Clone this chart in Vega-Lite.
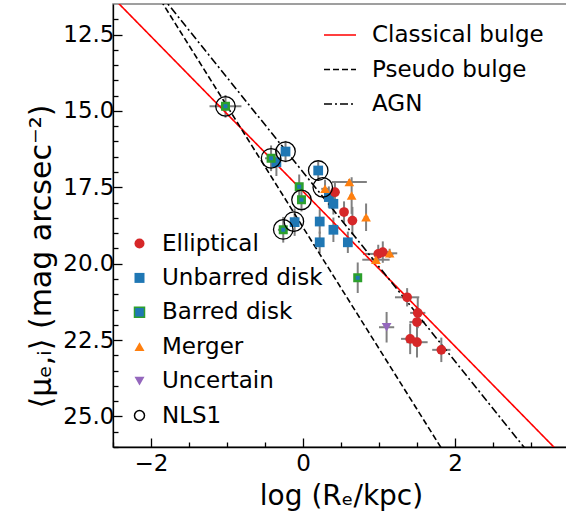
{
  "$schema": "https://vega.github.io/schema/vega-lite/v6.json",
  "width": 456,
  "height": 443,
  "autosize": {"type": "none"},
  "padding": {"left": 113, "top": 4, "right": 0, "bottom": 65},
  "background": "white",
  "config": {
    "font": "DejaVu Sans",
    "view": {"stroke": "#808080", "strokeWidth": 1.5},
    "axis": {
      "grid": false,
      "domainColor": "black",
      "domainWidth": 1.3,
      "tickColor": "black",
      "tickWidth": 1.3,
      "labelColor": "black",
      "titleColor": "black",
      "labelFont": "DejaVu Sans",
      "titleFont": "DejaVu Sans",
      "labelFontSize": 23,
      "titleFontSize": 28,
      "titleFontWeight": "normal",
      "labelFlush": false,
      "labelOverlap": false,
      "labelBound": false
    },
    "legend": {
      "labelFont": "DejaVu Sans",
      "labelFontSize": 23,
      "labelColor": "black",
      "labelLimit": 0,
      "padding": 0,
      "titlePadding": 0
    }
  },
  "datasets": {
    "pts": [
      {"type": "Barred disk", "x": -1.02, "y": 14.85, "xerr": 0.21, "yerr": 0.37},
      {"type": "Barred disk", "x": -0.42, "y": 16.55, "xerr": 0.08, "yerr": 0.42},
      {"type": "Barred disk", "x": -0.05, "y": 17.48, "xerr": 0.05, "yerr": 0.4},
      {"type": "Barred disk", "x": -0.02, "y": 17.91, "xerr": 0.05, "yerr": 0.38},
      {"type": "Barred disk", "x": -0.26, "y": 18.89, "xerr": 0.07, "yerr": 0.42},
      {"type": "Barred disk", "x": 0.72, "y": 20.46, "xerr": 0.03, "yerr": 0.5},
      {"type": "Unbarred disk", "x": -0.35, "y": 16.68, "xerr": 0.05, "yerr": 0.45},
      {"type": "Unbarred disk", "x": -0.23, "y": 16.33, "xerr": 0.05, "yerr": 0.35},
      {"type": "Unbarred disk", "x": 0.2, "y": 16.95, "xerr": 0.04, "yerr": 0.3},
      {"type": "Unbarred disk", "x": 0.34, "y": 17.82, "xerr": 0.05, "yerr": 0.35},
      {"type": "Unbarred disk", "x": 0.4, "y": 18.04, "xerr": 0.05, "yerr": 0.35},
      {"type": "Unbarred disk", "x": -0.11, "y": 18.64, "xerr": 0.05, "yerr": 0.45},
      {"type": "Unbarred disk", "x": 0.22, "y": 18.62, "xerr": 0.04, "yerr": 0.4},
      {"type": "Unbarred disk", "x": 0.4, "y": 18.89, "xerr": 0.04, "yerr": 0.4},
      {"type": "Unbarred disk", "x": 0.22, "y": 19.3, "xerr": 0.04, "yerr": 0.35},
      {"type": "Unbarred disk", "x": 0.59, "y": 19.3, "xerr": 0.04, "yerr": 0.35},
      {"type": "Elliptical", "x": 0.42, "y": 17.66, "xerr": 0.06, "yerr": 0.3},
      {"type": "Elliptical", "x": 0.54, "y": 18.31, "xerr": 0.05, "yerr": 0.35},
      {"type": "Elliptical", "x": 0.65, "y": 18.59, "xerr": 0.05, "yerr": 0.45},
      {"type": "Elliptical", "x": 0.99, "y": 19.68, "xerr": 0.2, "yerr": 0.3},
      {"type": "Elliptical", "x": 1.05, "y": 19.62, "xerr": 0.1, "yerr": 0.35},
      {"type": "Elliptical", "x": 1.37, "y": 21.1, "xerr": 0.16, "yerr": 0.3},
      {"type": "Elliptical", "x": 1.51, "y": 21.61, "xerr": 0.1, "yerr": 0.5},
      {"type": "Elliptical", "x": 1.5, "y": 21.91, "xerr": 0.1, "yerr": 0.5},
      {"type": "Elliptical", "x": 1.41, "y": 22.46, "xerr": 0.12, "yerr": 0.5},
      {"type": "Elliptical", "x": 1.5, "y": 22.57, "xerr": 0.14, "yerr": 0.5},
      {"type": "Elliptical", "x": 1.82, "y": 22.82, "xerr": 0.12, "yerr": 0.4},
      {"type": "Merger", "x": 0.29, "y": 17.55, "xerr": 0.05, "yerr": 0.3},
      {"type": "Merger", "x": 0.61, "y": 17.33, "xerr": 0.23, "yerr": 0.1},
      {"type": "Merger", "x": 0.64, "y": 17.77, "xerr": 0.03, "yerr": 0.6},
      {"type": "Merger", "x": 0.83, "y": 18.48, "xerr": 0.03, "yerr": 0.45},
      {"type": "Merger", "x": 1.14, "y": 19.66, "xerr": 0.1, "yerr": 0.15},
      {"type": "Merger", "x": 0.96, "y": 19.87, "xerr": 0.18, "yerr": 0.15},
      {"type": "Uncertain", "x": 1.1, "y": 22.08, "xerr": 0.1, "yerr": 0.5}
    ],
    "nls1": [
      {"type": "NLS1", "x": -1.02, "y": 14.85},
      {"type": "NLS1", "x": -0.42, "y": 16.55},
      {"type": "NLS1", "x": -0.23, "y": 16.33},
      {"type": "NLS1", "x": 0.2, "y": 16.95},
      {"type": "NLS1", "x": 0.26, "y": 17.5},
      {"type": "NLS1", "x": -0.02, "y": 17.91},
      {"type": "NLS1", "x": -0.12, "y": 18.62},
      {"type": "NLS1", "x": -0.26, "y": 18.88}
    ],
    "fits": [
      {"fit": "Classical bulge", "x": -2.6, "y": 11.04},
      {"fit": "Classical bulge", "x": 3.6, "y": 26.76},
      {"fit": "Pseudo bulge", "x": -2.0, "y": 10.87},
      {"fit": "Pseudo bulge", "x": 2.0, "y": 26.75},
      {"fit": "AGN", "x": -2.0, "y": 10.81},
      {"fit": "AGN", "x": 3.1, "y": 26.6}
    ]
  },
  "encoding": {
    "x": {
      "field": "x",
      "type": "quantitative",
      "scale": {"domain": [-2.5, 3.5], "nice": false, "zero": false},
      "axis": {
        "title": "log (Rₑ/kpc)",
        "values": [-2.5, -2, -1.5, -1, -0.5, 0, 0.5, 1, 1.5, 2, 2.5, 3, 3.5],
        "labelExpr": "datum.value % 2 === 0 ? format(datum.value, 'd') : ''",
        "tickSize": {"condition": {"test": "datum.value % 2 === 0", "value": -9}, "value": -5},
        "labelPadding": 14,
        "titlePadding": 3
      }
    },
    "y": {
      "field": "y",
      "type": "quantitative",
      "scale": {"domain": [11.5, 26], "reverse": true, "nice": false, "zero": false},
      "axis": {
        "title": "⟨μₑ,ᵢ⟩ (mag arcsec⁻²)",
        "values": [12, 12.5, 13, 13.5, 14, 14.5, 15, 15.5, 16, 16.5, 17, 17.5, 18, 18.5, 19, 19.5, 20, 20.5, 21, 21.5, 22, 22.5, 23, 23.5, 24, 24.5, 25, 25.5, 26],
        "labelExpr": "abs((datum.value - 12.5) % 2.5) < 0.001 ? format(datum.value, '.1f') : ''",
        "tickSize": {"condition": {"test": "abs((datum.value - 12.5) % 2.5) < 0.001", "value": -9}, "value": -5},
        "labelPadding": 8,
        "titlePadding": 6,
        "titleFontSize": 30,
        "titleY": 252
      }
    }
  },
  "layer": [
    {
      "data": {"name": "pts"},
      "mark": {"type": "errorbar", "color": "#808080", "thickness": 2},
      "encoding": {"xError": {"field": "xerr"}}
    },
    {
      "data": {"name": "pts"},
      "mark": {"type": "errorbar", "color": "#808080", "thickness": 2},
      "encoding": {"yError": {"field": "yerr"}}
    },
    {
      "data": {"name": "fits"},
      "mark": {"type": "line", "clip": true, "strokeWidth": 1.6},
      "encoding": {
        "color": {
          "field": "fit",
          "type": "nominal",
          "scale": {"domain": ["Classical bulge", "Pseudo bulge", "AGN"], "range": ["#ff0000", "#000000", "#000000"]},
          "legend": {"orient": "none", "legendX": 210, "legendY": 14, "title": null, "symbolType": "stroke", "symbolSize": 1024, "symbolStrokeWidth": 1.6, "labelOffset": 15, "rowPadding": 5.5}
        },
        "strokeDash": {
          "field": "fit",
          "type": "nominal",
          "scale": {"domain": ["Classical bulge", "Pseudo bulge", "AGN"], "range": [[1, 0], [6, 3], [8, 3, 2, 3]]},
          "legend": {"orient": "none", "legendX": 210, "legendY": 14, "title": null, "symbolType": "stroke", "symbolSize": 1024, "symbolStrokeWidth": 1.6, "labelOffset": 15, "rowPadding": 5.5}
        }
      }
    },
    {
      "data": {"name": "pts"},
      "transform": [{"filter": "datum.type !== 'Barred disk'"}],
      "mark": {"type": "point", "filled": true, "size": 95, "strokeWidth": 0, "opacity": 1},
      "encoding": {
        "shape": {"field": "type", "type": "nominal",
          "scale": {"domain": ["Elliptical", "Unbarred disk", "Barred disk", "Merger", "Uncertain", "NLS1"], "range": ["circle", "square", "square", "triangle-up", "triangle-down", "circle"]},
          "legend": {"orient": "none", "legendX": 15, "legendY": 228, "title": null, "labelOffset": 11, "rowPadding": 10.4,
            "encode": {"symbols": {"update": {"size": {"signal": "datum.value === 'NLS1' ? 380 : datum.value === 'Barred disk' ? 42 : 95"}, "strokeWidth": {"signal": "datum.value === 'NLS1' ? 1.3 : datum.value === 'Barred disk' ? 2.5 : 0"}}}}}},
        "fill": {"field": "type", "type": "nominal",
          "scale": {"domain": ["Elliptical", "Unbarred disk", "Barred disk", "Merger", "Uncertain", "NLS1"], "range": ["#d62728", "#1f77b4", "#1f77b4", "#ff7f0e", "#9467bd", "transparent"]},
          "legend": {"orient": "none", "legendX": 15, "legendY": 228, "title": null, "labelOffset": 11, "rowPadding": 10.4,
            "encode": {"symbols": {"update": {"size": {"signal": "datum.value === 'NLS1' ? 380 : datum.value === 'Barred disk' ? 42 : 95"}, "strokeWidth": {"signal": "datum.value === 'NLS1' ? 1.3 : datum.value === 'Barred disk' ? 2.5 : 0"}}}}}},
        "stroke": {"field": "type", "type": "nominal",
          "scale": {"domain": ["Elliptical", "Unbarred disk", "Barred disk", "Merger", "Uncertain", "NLS1"], "range": ["transparent", "transparent", "#2ca02c", "transparent", "transparent", "#000000"]},
          "legend": {"orient": "none", "legendX": 15, "legendY": 228, "title": null, "labelOffset": 11, "rowPadding": 10.4,
            "encode": {"symbols": {"update": {"size": {"signal": "datum.value === 'NLS1' ? 380 : datum.value === 'Barred disk' ? 42 : 95"}, "strokeWidth": {"signal": "datum.value === 'NLS1' ? 1.3 : datum.value === 'Barred disk' ? 2.5 : 0"}}}}}}
      }
    },
    {
      "data": {"name": "pts"},
      "transform": [{"filter": "datum.type === 'Barred disk'"}],
      "mark": {"type": "point", "filled": true, "size": 42, "strokeWidth": 2.5, "opacity": 1},
      "encoding": {
        "shape": {"field": "type", "type": "nominal"},
        "fill": {"field": "type", "type": "nominal"},
        "stroke": {"field": "type", "type": "nominal"}
      }
    },
    {
      "data": {"name": "nls1"},
      "mark": {"type": "point", "filled": false, "size": 380, "strokeWidth": 1.3, "opacity": 1},
      "encoding": {
        "shape": {"field": "type", "type": "nominal"},
        "fill": {"field": "type", "type": "nominal"},
        "stroke": {"field": "type", "type": "nominal"}
      }
    }
  ]
}
